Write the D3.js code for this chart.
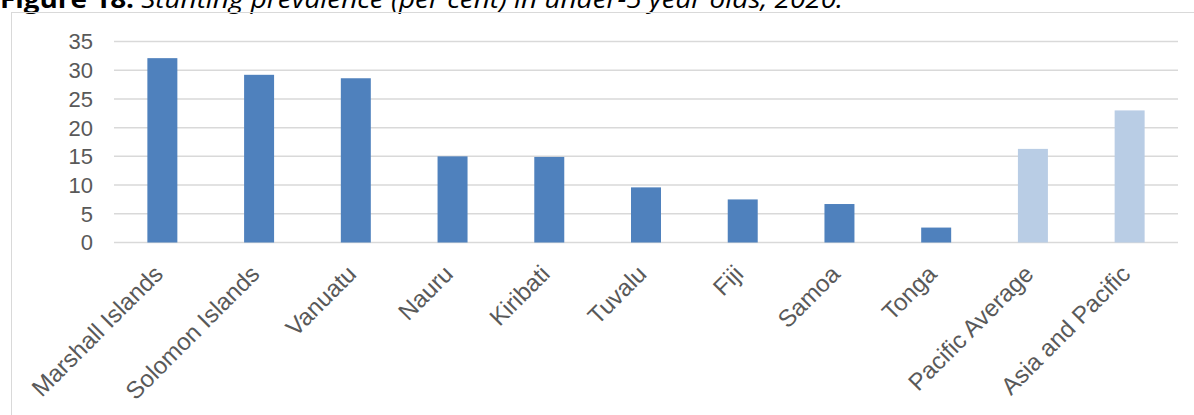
<!DOCTYPE html>
<html>
<head>
<meta charset="utf-8">
<script src="https://cdn.jsdelivr.net/npm/d3@7"></script>
<style>
  body { margin: 0; background: #fff; }
  svg { display: block; }
</style>
</head>
<body>
<svg id="chart"></svg>
<script>
// Stunting prevalence (per cent) in under-5 year olds, 2020
const countries = ["Marshall Islands", "Solomon Islands", "Vanuatu", "Nauru", "Kiribati",
  "Tuvalu", "Fiji", "Samoa", "Tonga", "Pacific Average", "Asia and Pacific"];
const stunting = [32.1, 29.2, 28.6, 15.0, 14.9, 9.6, 7.5, 6.7, 2.6, 16.3, 23.0];
const aggregates = ["Pacific Average", "Asia and Pacific"];
const yTicks = [0, 5, 10, 15, 20, 25, 30, 35];

const width = 1194;
const height = 415;
const margin = { top: 41.5, right: 16, bottom: 172.5, left: 114 };

const svg = d3.select("#chart")
  .attr("width", width)
  .attr("height", height);

// title, clipped at the top like the source page
const title = svg.append("text")
  .attr("x", 0)
  .attr("y", 8)
  .attr("textLength", 843)
  .attr("lengthAdjust", "spacingAndGlyphs")
  .style("font-family", "'Open Sans', sans-serif")
  .style("font-size", "25px")
  .style("fill", "#000");
title.append("tspan").style("font-weight", "bold").text("Figure 18: ");
title.append("tspan").style("font-style", "italic")
  .text("Stunting prevalence (per cent) in under-5 year olds, 2020.");

// chart area border
svg.append("rect")
  .attr("x", 11.5)
  .attr("y", 12.5)
  .attr("width", width)
  .attr("height", height)
  .attr("fill", "none")
  .attr("stroke", "#d9d9d9")
  .attr("stroke-width", 1);

const x = d3.scaleBand()
  .domain(countries)
  .range([margin.left, width - margin.right])
  .paddingInner(0.69)
  .paddingOuter(0.345);

const y = d3.scaleLinear()
  .domain([0, 35])
  .range([height - margin.bottom, margin.top]);

// gridlines
svg.append("g")
  .selectAll("line")
  .data(yTicks)
  .join("line")
  .attr("x1", margin.left)
  .attr("x2", width - margin.right)
  .attr("y1", d => y(d))
  .attr("y2", d => y(d))
  .attr("stroke", "#d9d9d9")
  .attr("stroke-width", 1.5);

// y axis labels
svg.append("g")
  .selectAll("text")
  .data(yTicks)
  .join("text")
  .attr("x", 93)
  .attr("y", d => y(d))
  .attr("dy", "0.36em")
  .attr("text-anchor", "end")
  .style("font-family", "'Liberation Sans', Arial, sans-serif")
  .style("font-size", "22px")
  .style("fill", "#595959")
  .text(d => d);

// bars
svg.append("g")
  .selectAll("rect")
  .data(countries)
  .join("rect")
  .attr("x", d => x(d))
  .attr("width", x.bandwidth())
  .attr("y", (d, i) => y(stunting[i]))
  .attr("height", (d, i) => y(0) - y(stunting[i]))
  .attr("fill", d => aggregates.includes(d) ? "#b9cde5" : "#4f81bd");

// category labels, rotated
svg.append("g")
  .selectAll("text")
  .data(countries)
  .join("text")
  .attr("transform", d => `translate(${x(d) + x.bandwidth() / 2 + 2},${y(0) + 33}) rotate(-45)`)
  .attr("text-anchor", "end")
  .style("font-family", "'Liberation Sans', Arial, sans-serif")
  .style("font-size", "24px")
  .style("fill", "#595959")
  .text(d => d);
</script>
</body>
</html>
